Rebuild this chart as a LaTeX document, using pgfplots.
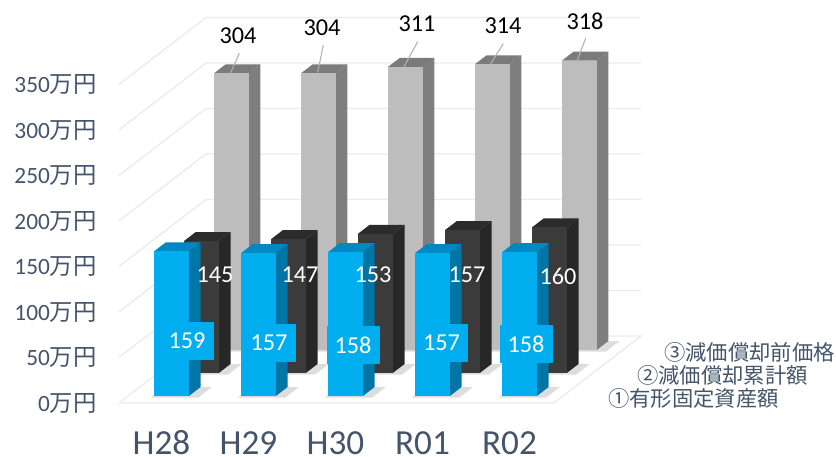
\documentclass[border=0pt]{standalone}
\usepackage{pgfplots}
\pgfplotsset{compat=1.18}
\usepackage{fontspec}
\setmainfont{Carlito}
\newfontfamily\cjk{Noto Sans CJK JP}
\definecolor{ink}{HTML}{44546A}
\definecolor{gridc}{HTML}{EBEBEB}
\definecolor{bluef}{HTML}{00ADEE}
\definecolor{blues}{HTML}{0075A6}
\definecolor{bluet}{HTML}{0088C2}
\definecolor{darkf}{HTML}{3B3B3B}
\definecolor{darks}{HTML}{272727}
\definecolor{darkt}{HTML}{2B2B2B}
\definecolor{grayf}{HTML}{BDBDBD}
\definecolor{grays}{HTML}{7E7E7E}
\definecolor{grayt}{HTML}{7B7B7B}
\definecolor{leader}{HTML}{A5B4C6}
\definecolor{shadowc}{HTML}{DDDDDD}
\newcommand\U{0.75pt}
% one 3D bar: category, front depth, value, colours
\newcommand\Bar[6]{%
  \pgfmathsetmacro\xa{#1-0.2}\pgfmathsetmacro\xb{#1+0.2}%
  \pgfmathsetmacro\ya{#2}\pgfmathsetmacro\yb{#2+9}%
  \pgfmathsetmacro\sa{#1-0.215}\pgfmathsetmacro\sb{#1+0.33}%
  \pgfmathsetmacro\yc{#2-1.5}%
  \addplot3[fill=shadowc,draw=none,forget plot] coordinates {(\sa,\yc,0) (\sb,\yc,0) (\sb,\yb,0) (\sa,\yb,0)};
  \addplot3[fill=#5,draw=none,forget plot] coordinates {(\xb,\ya,0) (\xb,\yb,0) (\xb,\yb,#3) (\xb,\ya,#3)};
  \addplot3[fill=#6,draw=none,forget plot] coordinates {(\xa,\ya,#3) (\xb,\ya,#3) (\xb,\yb,#3) (\xa,\yb,#3)};
  \addplot3[fill=#4,draw=none,forget plot] coordinates {(\xa,\ya,0) (\xb,\ya,0) (\xb,\ya,#3) (\xa,\ya,#3)};
}
\begin{document}
\begin{tikzpicture}[x=\U,y=\U]
\useasboundingbox (0,0) rectangle (836,457);
\begin{axis}[
  at={(162.4*\U,54*\U)},anchor=origin,
  x={(87*\U,0)},y={(1.3*\U,1*\U)},z={(0,0.91*\U)},
  xmin=-0.5,xmax=4.5,ymin=0,ymax=67,zmin=0,zmax=350,
  axis lines=left,
  axis line style={draw=none},
  tick style={draw=none},
  ytick=\empty,
  xtick={0,1,2,3,4},
  xticklabels={H28,H29,H30,R01,R02},
  ztick={0,50,100,150,200,250,300,350},
  zticklabels={0\cjk{万円},50\cjk{万円},100\cjk{万円},150\cjk{万円},200\cjk{万円},250\cjk{万円},300\cjk{万円},350\cjk{万円}},
  xticklabel style={font=\fontsize{26.4}{30}\selectfont,text=ink,anchor=center,yshift=-28.5pt,xshift=1pt},
  zticklabel style={font=\fontsize{17.5}{20}\selectfont,text=ink,anchor=east,xshift=-11.5pt,yshift=1pt},
  clip=false,
]
% floor and walls
\addplot3[fill=white,draw=gridc,line width=1pt,forget plot] coordinates {(-0.5,0,0) (4.5,0,0) (4.5,67,0) (-0.5,67,0) (-0.5,0,0)};
\addplot3[gridc,line width=1pt,forget plot] coordinates {(-0.5,0,50) (-0.5,67,50) (4.5,67,50)};
\addplot3[gridc,line width=1pt,forget plot] coordinates {(-0.5,0,100) (-0.5,67,100) (4.5,67,100)};
\addplot3[gridc,line width=1pt,forget plot] coordinates {(-0.5,0,150) (-0.5,67,150) (4.5,67,150)};
\addplot3[gridc,line width=1pt,forget plot] coordinates {(-0.5,0,200) (-0.5,67,200) (4.5,67,200)};
\addplot3[gridc,line width=1pt,forget plot] coordinates {(-0.5,0,250) (-0.5,67,250) (4.5,67,250)};
\addplot3[gridc,line width=1pt,forget plot] coordinates {(-0.5,0,300) (-0.5,67,300) (4.5,67,300)};
\addplot3[gridc,line width=1pt,forget plot] coordinates {(-0.5,0,350) (-0.5,67,350) (4.5,67,350)};
% third series
\Bar{0}{53}{304}{grayf}{grays}{grayt}
\Bar{1}{53}{304}{grayf}{grays}{grayt}
\Bar{2}{53}{311}{grayf}{grays}{grayt}
\Bar{3}{53}{314}{grayf}{grays}{grayt}
\Bar{4}{53}{318}{grayf}{grays}{grayt}
% second series
\Bar{0}{30}{145}{darkf}{darks}{darkt}
\Bar{1}{30}{147}{darkf}{darks}{darkt}
\Bar{2}{30}{153}{darkf}{darks}{darkt}
\Bar{3}{30}{157}{darkf}{darks}{darkt}
\Bar{4}{30}{160}{darkf}{darks}{darkt}
% first series
\Bar{0}{7}{159}{bluef}{blues}{bluet}
\Bar{1}{7}{157}{bluef}{blues}{bluet}
\Bar{2}{7}{158}{bluef}{blues}{bluet}
\Bar{3}{7}{157}{bluef}{blues}{bluet}
\Bar{4}{7}{158}{bluef}{blues}{bluet}
\end{axis}
% leader lines
\draw[leader,line width=0.8pt] (230.7,384.3) -- (239.3,403.7);
\draw[leader,line width=0.8pt] (317.7,384.7) -- (323.3,412);
\draw[leader,line width=0.8pt] (404,390.3) -- (417.7,415.3);
\draw[leader,line width=0.8pt] (490.7,393.3) -- (503.3,413.3);
\draw[leader,line width=0.8pt] (577.3,397) -- (585.7,418.7);
% data labels
\begin{scope}[every node/.style={font=\fontsize{18.2}{20}\selectfont,inner sep=0pt}]
\node[text=black] at (238,421) {304};
\node[text=black] at (322,429) {304};
\node[text=black] at (417,433) {311};
\node[text=black] at (503,431) {314};
\node[text=black] at (585,436) {318};
\node[text=white] at (215,182) {145};
\node[text=white] at (300,182) {147};
\node[text=white] at (373,182) {153};
\node[text=white] at (467,182) {157};
\node[text=white] at (558,181) {160};
\end{scope}
\begin{scope}[every node/.style={font=\fontsize{18.2}{20}\selectfont,inner sep=0pt,fill=bluef,text=white,minimum width=53*\U,minimum height=38*\U}]
\node at (187,116) {159};
\node at (269,114) {157};
\node at (353,112) {158};
\node at (441.5,114) {157};
\node at (526,113) {158};
\end{scope}
% series names
\begin{scope}[every node/.style={font=\cjk\fontsize{16}{18}\selectfont,inner sep=0pt,text=ink,anchor=west}]
\node at (664,105) {③減価償却前価格};
\node at (637,82) {②減価償却累計額};
\node at (608,59) {①有形固定資産額};
\end{scope}
\end{tikzpicture}
\end{document}
